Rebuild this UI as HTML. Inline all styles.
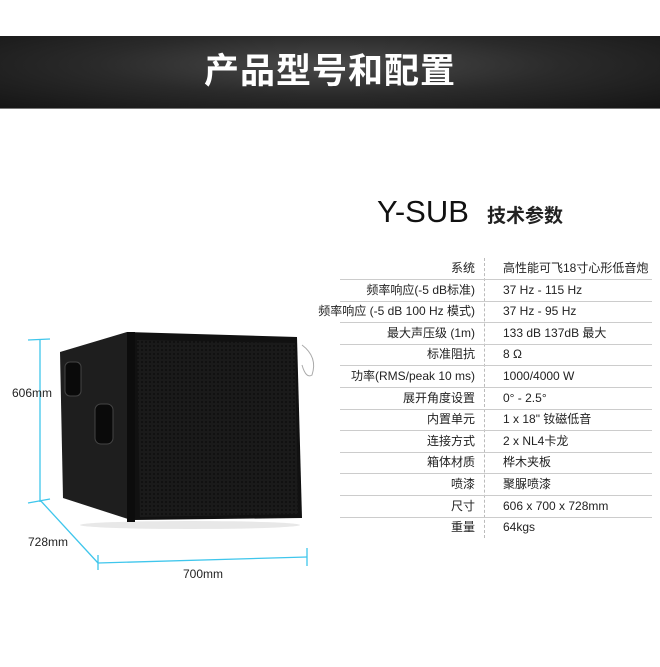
<!DOCTYPE html>
<html><head><meta charset="utf-8"><style>
body{margin:0;width:660px;height:667px;background:#fff;position:relative;overflow:hidden;font-family:"Liberation Sans","Noto Sans CJK SC",sans-serif}
.bar{position:absolute;left:0;top:36px;width:660px;height:72px;background:radial-gradient(ellipse at 50% 40%,#4a4a4a 0%,#2a2a2a 50%,#151515 100%);border-bottom:1px solid #777}
.bar div{position:absolute;left:0;width:660px;top:14px;text-align:center;color:#fff;font-size:35px;font-weight:bold;letter-spacing:1px;line-height:44px}
.t{position:absolute;font-size:12px;color:#222;white-space:nowrap;line-height:18px;height:18px}
.l{right:185px;text-align:right}
.v{left:503px}
.ln{position:absolute;left:340px;width:312px;height:1px;background:#ccc}
</style></head><body>
<div class="bar"><div>产品型号和配置</div></div>
<div style="position:absolute;left:377px;top:194px;font-size:31px;color:#111">Y-SUB</div>
<div style="position:absolute;left:487px;top:201px;font-size:19px;font-weight:bold;color:#222">技术参数</div>
<div style="position:absolute;left:484px;top:258px;height:280px;border-left:1px dashed #bbb"></div>
<div id="tb"></div>
<svg style="position:absolute;left:0;top:0" width="660" height="667">
<defs><pattern id="g" width="4" height="4" patternUnits="userSpaceOnUse"><rect width="4" height="4" fill="#1a1a1a"/><circle cx="2" cy="2" r="0.9" fill="#0a0a0a"/></pattern></defs>
<g stroke="#3fc6ec" stroke-width="1.3" fill="none">
<line x1="40" y1="339" x2="40" y2="502"/><line x1="28" y1="340" x2="50" y2="339"/><line x1="28" y1="503" x2="50" y2="499"/>
<line x1="40" y1="500" x2="98" y2="563"/><line x1="98" y1="563" x2="307" y2="557"/>
<line x1="98" y1="555" x2="98" y2="570"/><line x1="307" y1="548" x2="307" y2="566"/>
</g>
<ellipse cx="190" cy="525" rx="110" ry="4" fill="#e8e8e8"/>
<polygon points="60,352 127,332 131,520 63,498" fill="#1e1e1e"/>
<polygon points="127,332 297,337 302,518 133,520" fill="#111"/>
<polygon points="137,340 295,343 298,514 140,517" fill="url(#g)"/>
<rect x="127" y="332" width="8" height="190" fill="#0c0c0c"/>
<rect x="65" y="362" width="16" height="34" rx="5" fill="#0a0a0a" stroke="#444"/>
<rect x="95" y="404" width="18" height="40" rx="6" fill="#0a0a0a" stroke="#444"/>
<path d="M302 345 q16 12 10 30 q-6 4 -10 -10" stroke="#aaa" fill="none"/>
<text x="12" y="397" font-size="12" fill="#222" font-family="Liberation Sans">606mm</text>
<text x="28" y="546" font-size="12" fill="#222" font-family="Liberation Sans">728mm</text>
<text x="183" y="578" font-size="12" fill="#222" font-family="Liberation Sans">700mm</text>
</svg>
<script>
var r=[["系统","高性能可飞18寸心形低音炮"],["频率响应(-5 dB标准)","37 Hz - 115 Hz"],["频率响应 (-5 dB 100 Hz 模式)","37 Hz - 95 Hz"],["最大声压级 (1m)","133 dB 137dB 最大"],["标准阻抗","8 Ω"],["功率(RMS/peak 10 ms)","1000/4000 W"],["展开角度设置","0° - 2.5°"],["内置单元","1 x 18\" 钕磁低音"],["连接方式","2 x NL4卡龙"],["箱体材质","桦木夹板"],["喷漆","聚脲喷漆"],["尺寸","606 x 700 x 728mm"],["重量","64kgs"]];
var h="";for(var i=0;i<r.length;i++){var y=259+i*21.6;h+='<div class="t l" style="top:'+y+'px">'+r[i][0]+'</div><div class="t v" style="top:'+y+'px">'+r[i][1]+'</div>';if(i<12)h+='<div class="ln" style="top:'+(y+20)+'px"></div>';}
document.getElementById("tb").innerHTML=h;
</script>
</body></html>
